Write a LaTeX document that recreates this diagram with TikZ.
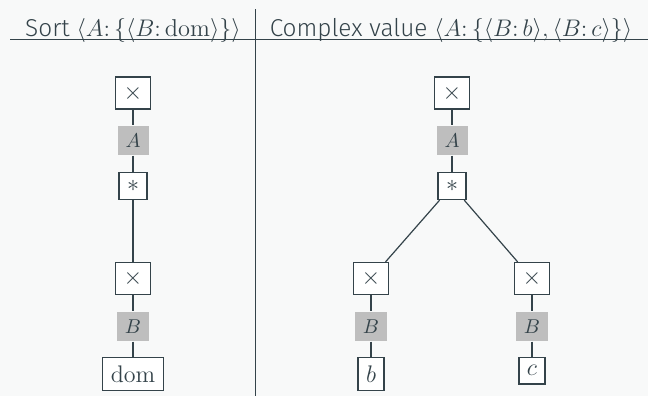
\documentclass[tikz,border=0pt]{standalone}
\usepackage{fontspec}
\setsansfont{Fira Sans}[UprightFont={* Light}]
\definecolor{ink}{HTML}{34434A}
\definecolor{paper}{HTML}{F8F9F9}
\definecolor{lab}{HTML}{BEBEBE}
\tikzset{
  tnode/.style={draw=ink, text=ink, fill=white, inner sep=4pt, font=\fontsize{12}{14}\selectfont, line width=.6pt},
  tlab/.style={fill=lab, text=ink, inner sep=4pt, font=\fontsize{10}{12}\selectfont},
  head/.style={text=ink, font=\sffamily\fontsize{12.2}{15}\selectfont, anchor=base},
  edge/.style={draw=ink, line width=.6pt}
}
\begin{document}
\begin{tikzpicture}[x=.5pt,y=-.5pt]
        \fill[paper] (0,0) rectangle (648,396);
        \useasboundingbox (0,0) rectangle (648,396);
        % header
        \draw[ink, line width=.5pt] (10,39.5) -- (648,39.5);
        \draw[ink, line width=.5pt] (255,9) -- (255,396);
        \node[head] (hl) at (133,36) {Sort $\langle A\colon\{\langle B\colon\mathrm{dom}\rangle\}\rangle$};
        \node[head] (hr) at (451,36) {Complex value $\langle A\colon\{\langle B\colon b\rangle,\langle B\colon c\rangle\}\rangle$};

        % sort
        \node[tnode] (s1) at (133,93) {$\times$};
        \node[tlab] (sa) at (133,140.5) {$A$};
        \node[tnode] (s2) at (133,186) {$*$};
        \node[tnode] (s3) at (133,278.5) {$\times$};
        \node[tlab] (sb) at (133,326.5) {$B$};
        \node[tnode, anchor=north] (s4) at (133,357) {$\mathrm{dom}$};
        \foreach \u/\v in {s1/sa, sa/s2, s2/s3, s3/sb, sb/s4}
          \draw[edge] (\u) -- (\v);

        % complex value
        \node[tnode] (v1) at (452,93) {$\times$};
        \node[tlab] (va) at (452,140.5) {$A$};
        \node[tnode] (v2) at (452,186) {$*$};
        \node[tnode] (l1) at (371,278.5) {$\times$};
        \node[tlab] (lb) at (371,326.5) {$B$};
        \node[tnode, anchor=north] (l2) at (371,357) {$b$};
        \node[tnode] (r1) at (532,278.5) {$\times$};
        \node[tlab] (rb) at (532,326.5) {$B$};
        \node[tnode, anchor=north] (r2) at (532,357) {$c$};
        \foreach \u/\v in {v1/va, va/v2, v2/l1, l1/lb, lb/l2, v2/r1, r1/rb, rb/r2}
          \draw[edge] (\u) -- (\v);

      \end{tikzpicture}
\end{document}
